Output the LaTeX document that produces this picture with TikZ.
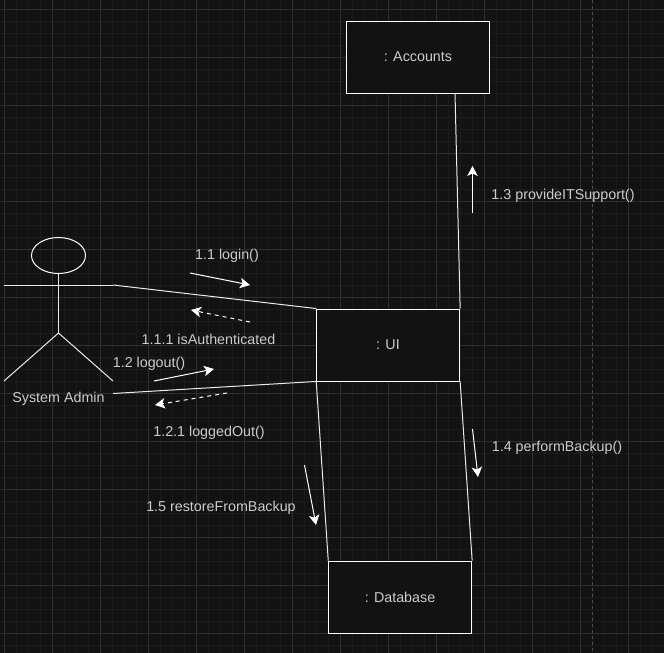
\documentclass[tikz,border=0pt]{standalone}
\usepackage{fontspec}
\setmainfont{Liberation Sans}
\usetikzlibrary{arrows.meta,shapes.geometric}
\definecolor{canvasbg}{HTML}{121212}
\definecolor{gridminor}{HTML}{1B1B1B}
\definecolor{gridmajor}{HTML}{2F2F2F}
\definecolor{labeltext}{HTML}{CCCCCC}
\tikzset{
	objbox/.style={draw=white, fill=canvasbg, line width=0.9pt, minimum width=143pt, minimum height=72pt, inner sep=0pt},
	msglabel/.style={text=labeltext, inner sep=0pt, font=\fontsize{14.3}{16}\selectfont},
	link/.style={draw=white!92!black, line width=1pt},
	msg/.style={draw=white, line width=1pt, -{Stealth[length=10pt,width=10.5pt,inset=2.5pt]}},
	msgback/.style={msg, dash pattern=on 4pt off 4pt}
}
\begin{document}
\begin{tikzpicture}[x=1pt, y=-1pt]
	%%%%% CANVAS %%%%%
	\useasboundingbox (0, 0) rectangle (664, 653);
	\fill[canvasbg] (0, 0) rectangle (664, 653);
	\foreach \gx in {4.5, 16.5, ..., 664} \draw[gridminor, line width=1pt] (\gx, 0) -- (\gx, 653);
	\foreach \gy in {9.5, 21.5, ..., 653} \draw[gridminor, line width=1pt] (0, \gy) -- (664, \gy);
	\foreach \gx in {4.5, 52.5, ..., 664} \draw[gridmajor, line width=1pt] (\gx, 0) -- (\gx, 653);
	\foreach \gy in {9.5, 57.5, ..., 653} \draw[gridmajor, line width=1pt] (0, \gy) -- (664, \gy);
	\draw[gridmajor!85!white, line width=1pt, dash pattern=on 3pt off 3pt] (592.5, 0) -- (592.5, 653);

	%%%%% OBJECTS %%%%%
	\node[objbox] (accounts) at (418.2, 57) {};
	\node[objbox] (ui) at (388.2, 345) {};
	\node[objbox] (database) at (400.2, 597) {};
	\node[msglabel] (accountsname) at (418, 57) {: Accounts};
	\node[msglabel] (uiname) at (388, 345) {: UI};
	\node[msglabel] (databasename) at (400, 597) {: Database};

	%%%%% ACTOR %%%%%
	\node[draw=white, line width=1pt, ellipse, minimum width=54pt, minimum height=36pt, inner sep=0pt] (adminhead) at (58.5, 255.5) {};
	\coordinate (adminhip) at (58.5, 333);
	\coordinate (adminarmL) at (4, 285);
	\coordinate (adminarmR) at (113, 285);
	\coordinate (adminlegL) at (4, 381);
	\coordinate (adminlegR) at (113, 381);
	\coordinate (adminout) at (113, 393.5);
	\draw[link] (adminhead) -- (adminhip);
	\draw[link] (adminarmL) -- (adminarmR);
	\draw[link] (adminlegL) -- (adminhip) -- (adminlegR);
	\node[msglabel] (adminname) at (58.5, 398.5) {System Admin};

	%%%%% LINKS %%%%%
	\coordinate (accountsout) at (455, 93);
	\draw[link] (adminarmR) -- (ui.north west);
	\draw[link] (adminout) -- (ui.south west);
	\draw[link] (accountsout) -- (ui.north east);
	\draw[link] (ui.south east) -- (database.north east);
	\draw[link] (ui.south west) -- (database.north west);

	%%%%% MESSAGES %%%%%
	\draw[msg] (190, 273) -- (250, 285);
	\draw[msgback] (250, 322) -- (191, 310);
	\draw[msg] (154, 381) -- (214, 369);
	\draw[msgback] (227, 393) -- (155, 405);
	\draw[msg] (472.5, 213) -- (472.5, 166);
	\draw[msg] (472.5, 429) -- (478, 477);
	\draw[msg] (304.5, 465) -- (316, 525);

	\node[msglabel] (loginlabel) at (227, 255.5) {1.1 login()};
	\node[msglabel] (authlabel) at (208.5, 339.5) {1.1.1 isAuthenticated};
	\node[msglabel] (logoutlabel) at (149, 363.5) {1.2 logout()};
	\node[msglabel] (loggedlabel) at (209, 432.5) {1.2.1 loggedOut()};
	\node[msglabel] (supportlabel) at (563, 195.5) {1.3 provideITSupport()};
	\node[msglabel] (backuplabel) at (557, 447.5) {1.4 performBackup()};
	\node[msglabel] (restorelabel) at (221, 507.5) {1.5 restoreFromBackup};
\end{tikzpicture}
\end{document}
